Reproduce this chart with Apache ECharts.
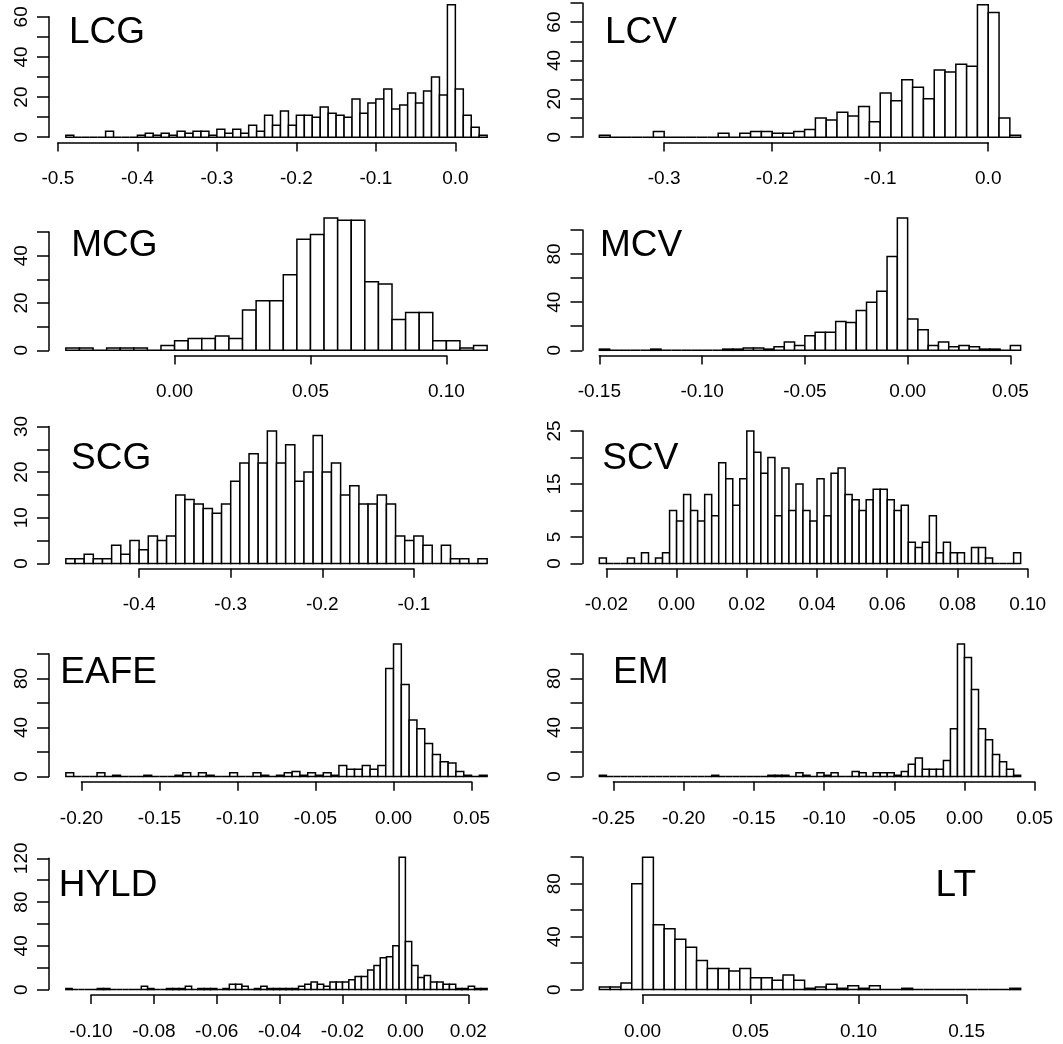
<!DOCTYPE html>
<html>
<head>
<meta charset="utf-8">
<script src="https://cdn.jsdelivr.net/npm/echarts@6/dist/echarts.min.js"></script>
<style>
  html, body { margin: 0; padding: 0; background: #fff; }
  #chart { width: 1063px; height: 1044px; }
</style>
</head>
<body>
<div id="chart"></div>
<script>
// panels, read left to right, top to bottom
const names = ['LCG', 'LCV', 'MCG', 'MCV', 'SCG', 'SCV', 'EAFE', 'EM', 'HYLD', 'LT'];

// bin counts
const lcgCounts = [1, 0, 0, 0, 0, 3, 0, 0, 0, 1, 2, 1, 2, 1, 3, 2, 3, 3, 1, 4, 2, 4, 2, 6, 3, 11, 6, 13, 6, 11,
  11, 10, 15, 12, 11, 10, 19, 12, 17, 19, 24, 14, 16, 22, 17, 23, 30, 21, 66, 24, 11, 5, 1];
const lcvCounts = [1, 0, 0, 0, 0, 3, 0, 0, 0, 0, 0, 2, 0, 2, 3, 3, 2, 2, 3, 4, 10, 9, 13, 11, 16, 8, 23, 19, 30, 26,
  20, 35, 34, 38, 37, 69, 65, 10, 1];
const mcgCounts = [1, 1, 0, 1, 1, 1, 0, 2, 4, 5, 5, 6, 5, 17, 21, 21, 32, 47, 49, 56, 55, 55, 29, 28, 13, 16, 16, 4, 4, 1, 2];
const mcvCounts = [1, 0, 0, 0, 0, 1, 0, 0, 0, 0, 0, 0, 1, 1, 2, 2, 1, 3, 7, 4, 12, 15, 15, 24, 23, 33, 40, 49, 78, 110,
  26, 17, 4, 7, 3, 4, 3, 1, 1, 0, 4];
const scgCounts = [1, 1, 2, 1, 1, 4, 2, 5, 3, 6, 5, 6, 15, 14, 13, 12, 11, 13, 18, 22, 24, 22, 29, 22, 26, 18, 20, 28, 20, 22,
  15, 17, 13, 13, 15, 13, 6, 5, 6, 4, 0, 4, 1, 1, 0, 1];
const scvCounts = [1, 0, 0, 0, 1, 0, 2, 0, 1, 2, 10, 8, 13, 10, 8, 13, 9, 19, 16, 11, 16, 25, 21, 17, 20, 9, 18, 10, 15, 10,
  8, 16, 9, 17, 18, 13, 12, 10, 12, 14, 14, 12, 10, 11, 4, 3, 4, 9, 2, 4, 2, 2, 0, 3, 3, 1, 0, 0, 0, 2];
const eafeCounts = [3, 0, 0, 0, 3, 0, 1, 0, 0, 0, 1, 0, 0, 0, 1, 3, 0, 3, 1, 0, 0, 3, 0, 0, 3, 1, 0, 1, 3, 4,
  1, 3, 1, 3, 1, 9, 6, 6, 9, 6, 9, 88, 108, 75, 46, 39, 27, 18, 12, 11, 4, 1, 0, 1];
const emCounts = [1, 0, 0, 0, 0, 0, 0, 0, 0, 0, 0, 0, 0, 0, 0, 0, 1, 0, 0, 0, 0, 0, 0, 0, 1, 1, 1, 0, 3, 1,
  0, 3, 1, 3, 0, 0, 4, 3, 0, 3, 3, 3, 1, 4, 10, 15, 6, 6, 6, 13, 39, 108, 97, 71, 39, 30, 18, 12, 6, 1];
const hyldCounts = [1, 0, 0, 0, 0, 1, 1, 0, 0, 0, 0, 0, 3, 1, 0, 0, 1, 1, 1, 3, 0, 1, 1, 1, 0, 1, 5, 5, 3, 0,
  1, 3, 1, 1, 1, 1, 1, 3, 5, 7, 5, 3, 7, 7, 7, 9, 12, 12, 18, 22, 29, 30, 40, 121, 44, 22, 11, 13, 7, 7,
  5, 5, 1, 1, 3, 1, 1];
const ltCounts = [2, 2, 5, 80, 100, 49, 46, 38, 32, 22, 16, 16, 14, 16, 9, 9, 7, 11, 7, 1, 2, 4, 1, 3, 1, 3, 0, 0, 1, 0,
  0, 0, 0, 0, 0, 0, 0, 0, 1];

const counts = [lcgCounts, lcvCounts, mcgCounts, mcvCounts, scgCounts, scvCounts, eafeCounts, emCounts, hyldCounts, ltCounts];

// first break and bin width of every histogram
const binStart = [-0.49, -0.36, -0.04, -0.15, -0.48, -0.022, -0.21, -0.26, -0.108, -0.02];
const binWidth = [0.01, 0.01, 0.005, 0.005, 0.01, 0.002, 0.005, 0.005, 0.002, 0.005];

// tick labels
const xTicks = [
  ['-0.5', '-0.4', '-0.3', '-0.2', '-0.1', '0.0'],
  ['-0.3', '-0.2', '-0.1', '0.0'],
  ['0.00', '0.05', '0.10'],
  ['-0.15', '-0.10', '-0.05', '0.00', '0.05'],
  ['-0.4', '-0.3', '-0.2', '-0.1'],
  ['-0.02', '0.00', '0.02', '0.04', '0.06', '0.08', '0.10'],
  ['-0.20', '-0.15', '-0.10', '-0.05', '0.00', '0.05'],
  ['-0.25', '-0.20', '-0.15', '-0.10', '-0.05', '0.00', '0.05'],
  ['-0.10', '-0.08', '-0.06', '-0.04', '-0.02', '0.00', '0.02'],
  ['0.00', '0.05', '0.10', '0.15']
];
const yTickStep = [10, 10, 10, 20, 5, 5, 20, 20, 20, 20];
const yLabels = [
  ['0', '20', '40', '60'],
  ['0', '20', '40', '60'],
  ['0', '20', '40'],
  ['0', '40', '80'],
  ['0', '10', '20', '30'],
  ['0', '5', '15', '25'],
  ['0', '40', '80'],
  ['0', '40', '80'],
  ['0', '40', '80', '120'],
  ['0', '40', '80']
];

// layout (pixels)
const colLeft = [49, 582.5];
const plotW = 455, plotH = 143;
const firstBottom = 142.5, rowGap = 213.1;
const titleX = [69, 605, 71.3, 600, 71, 602.3, 60.3, 613, 58.7, 935.6];
const titleBase = [45.7, 45.7, 258.3, 258.3, 471.7, 471.7, 686, 686, 898.3, 899];

const font = 'Liberation Sans';
const ink = '#000';

const grids = [], xAxes = [], yAxes = [], series = [], texts = [];

names.forEach((name, i) => {
  const c = counts[i];
  const left = colLeft[i % 2];
  const bottom = firstBottom + rowGap * Math.floor(i / 2);
  const top = bottom - plotH;

  // R style ranges: 4% padding on each side
  const b0 = binStart[i], b1 = binStart[i] + c.length * binWidth[i];
  const xMin = b0 - 0.04 * (b1 - b0), xMax = b1 + 0.04 * (b1 - b0);
  const yTop = Math.max(...c);
  const yMin = -0.04 * yTop, yMax = 1.04 * yTop;
  const px = v => left + (v - xMin) / (xMax - xMin) * plotW;
  const py = v => bottom - (v - yMin) / (yMax - yMin) * plotH;

  const xt = xTicks[i].map(Number);
  const xFirst = xt[0], xLast = xt[xt.length - 1];
  const xStep = +(xt[1] - xt[0]).toFixed(6);
  const dec = xTicks[i][0].split('.')[1].length;
  const yLast = Math.floor(yMax / yTickStep[i] + 1e-9) * yTickStep[i];

  // plot grid holding the bars
  grids.push({ left: left, top: top, width: plotW, height: plotH, containLabel: false, outerBoundsMode: 'none' });
  xAxes.push({ type: 'value', gridIndex: 2 * i, min: xMin, max: xMax, show: false });
  yAxes.push({ type: 'value', gridIndex: 2 * i, min: yMin, max: yMax, show: false });

  // axis grid: lines only run between the outer ticks
  grids.push({
    left: px(xFirst), top: py(yLast), width: px(xLast) - px(xFirst), height: py(0) - py(yLast),
    containLabel: false, outerBoundsMode: 'none'
  });
  xAxes.push({
    type: 'value', gridIndex: 2 * i + 1, min: xFirst, max: xLast, interval: xStep,
    position: 'bottom', offset: bottom - py(0),
    axisLine: { show: true, onZero: false, lineStyle: { color: ink, width: 1.5 } },
    axisTick: { show: true, length: 9, lineStyle: { color: ink, width: 1.5 } },
    axisLabel: {
      show: true, margin: 27, color: ink, fontFamily: font, fontSize: 19,
      formatter: v => v.toFixed(dec)
    },
    splitLine: { show: false }
  });
  yAxes.push({
    type: 'value', gridIndex: 2 * i + 1, min: 0, max: yLast, interval: yTickStep[i],
    position: 'left', offset: px(xFirst) - left,
    axisLine: { show: true, onZero: false, lineStyle: { color: ink, width: 1.5 } },
    axisTick: { show: true, length: 12, lineStyle: { color: ink, width: 1.5 } },
    axisLabel: {
      show: true, rotate: 90, margin: 18, color: ink, fontFamily: font, fontSize: 19,
      formatter: v => (yLabels[i].includes(String(Math.round(v))) ? String(Math.round(v)) : '')
    },
    splitLine: { show: false }
  });

  const bins = c.map((n, k) => [b0 + k * binWidth[i], b0 + (k + 1) * binWidth[i], n]);
  series.push({
    type: 'custom',
    xAxisIndex: 2 * i,
    yAxisIndex: 2 * i,
    encode: { x: [0, 1], y: 2 },
    clip: false,
    silent: true,
    data: bins,
    renderItem: (params, api) => {
      const p0 = api.coord([api.value(0), api.value(2)]);
      const p1 = api.coord([api.value(1), 0]);
      return {
        type: 'rect',
        shape: { x: p0[0], y: p0[1], width: p1[0] - p0[0], height: p1[1] - p0[1] },
        style: { fill: '#fff', stroke: ink, lineWidth: 1.5 }
      };
    }
  });

  texts.push({
    type: 'text', x: titleX[i], y: titleBase[i] - 0.3465 * 37,
    style: { text: name, fill: ink, font: '37px "Liberation Sans"', align: 'left', verticalAlign: 'middle' }
  });
});

const chart = echarts.init(document.getElementById('chart'));
chart.setOption({
  animation: false,
  backgroundColor: '#fff',
  grid: grids,
  xAxis: xAxes,
  yAxis: yAxes,
  series: series,
  graphic: texts
});
</script>
</body>
</html>
